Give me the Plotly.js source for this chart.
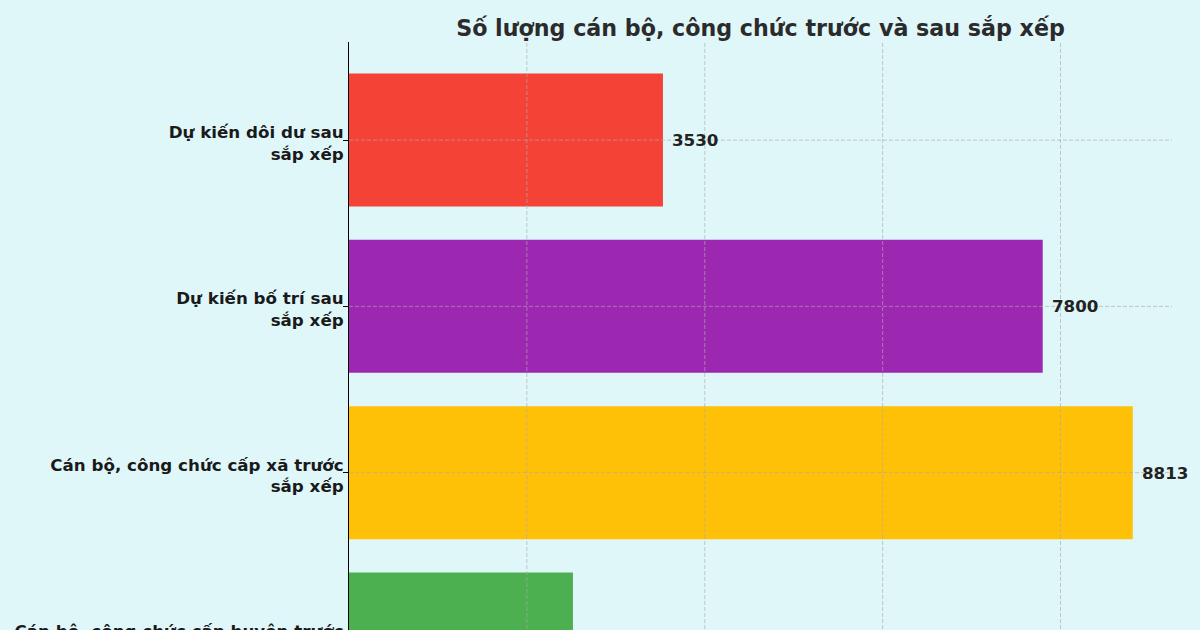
<!DOCTYPE html>
<html>
<head>
<meta charset="utf-8">
<script src="https://cdn.plot.ly/plotly-3.0.1.min.js"></script>
<style>
html,body{margin:0;padding:0;overflow:hidden;background:#E0F7FA;}
#chart{width:1200px;height:800px;}
</style>
</head>
<body>
<div id="chart"></div>
<script>
// Data (bottom to top, as in the original horizontal bar chart)
const categories = [
  "Cán bộ, công chức cấp huyện trước<br>sắp xếp",
  "Cán bộ, công chức cấp xã trước<br>sắp xếp",
  "Dự kiến bố trí sau<br>sắp xếp",
  "Dự kiến dôi dư sau<br>sắp xếp"
];
const values = [2518, 8813, 7800, 3530];
const barColors = ["#4CAF50", "#FFC107", "#9C27B0", "#F44336"];
const gridValues = [2000, 4000, 6000, 8000];
const titleText = "Số lượng cán bộ, công chức trước và sau sắp xếp";

const FONT = "DejaVu Sans, Verdana, sans-serif";
const gridStyle = {color: "rgba(170,170,170,0.65)", width: 1, dash: "4px,2px"};

const shapes = [];
gridValues.forEach(v => shapes.push({
  type: "line", layer: "above", xref: "x", yref: "paper",
  x0: v, x1: v, y0: 0, y1: 1, line: gridStyle
}));
categories.forEach(c => shapes.push({
  type: "line", layer: "above", xref: "paper", yref: "y",
  x0: 0, x1: 1, y0: c, y1: c, line: gridStyle
}));

const annotations = values.map((v, i) => ({
  x: v, y: categories[i], xref: "x", yref: "y",
  text: "<b>" + v + "</b>", showarrow: false,
  xanchor: "left", yanchor: "middle", xshift: 7,
  font: {family: FONT, size: 16.7, color: "#222222"}
}));

const trace = {
  type: "bar", orientation: "h",
  x: values, y: categories, width: 0.8,
  marker: {color: barColors, line: {width: 0}},
  hoverinfo: "skip"
};

const layout = {
  width: 1200, height: 800,
  margin: {l: 349, r: 28, t: 42, b: 63, pad: 0},
  paper_bgcolor: "#E0F7FA", plot_bgcolor: "#E0F7FA",
  title: {
    text: "<b>" + titleText + "</b>",
    x: 0.5, xref: "paper", xanchor: "center",
    y: 1 - 28/800, yref: "container", yanchor: "middle",
    font: {family: FONT, size: 22.2, color: "#2b2b2b"}
  },
  showlegend: false,
  bargap: 0.2,
  xaxis: {
    range: [0, 9253.65], showgrid: false, zeroline: false,
    showline: true, linecolor: "#000", linewidth: 1,
    tickvals: gridValues, ticks: "", showticklabels: false
  },
  yaxis: {
    type: "category", categoryorder: "array", categoryarray: categories,
    range: [-0.59, 3.59], showgrid: false, zeroline: false,
    showline: true, linecolor: "#000", linewidth: 1,
    ticks: "outside", ticklen: 5, tickcolor: "#000",
    ticklabelstandoff: -4, ticklabelshift: 3,
    tickfont: {family: FONT, size: 16.7, color: "#1a1a1a", weight: "bold"}
  },
  shapes: shapes,
  annotations: annotations
};

Plotly.newPlot("chart", [trace], layout, {staticPlot: true, displayModeBar: false});
</script>
</body>
</html>
